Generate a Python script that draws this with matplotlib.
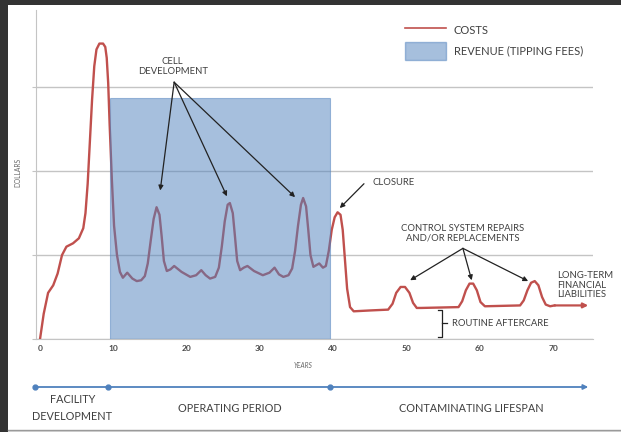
import matplotlib
matplotlib.use('Agg')
import matplotlib.pyplot as plt
from matplotlib.lines import Line2D
from matplotlib.patches import Patch, Rectangle
from matplotlib.transforms import blended_transform_factory

plt.rcParams['font.family'] = ['Lato', 'DejaVu Sans']

# costs curve (years, dollars in grid units)
years = [0, 0.5, 1.1, 1.8, 2.4, 3.0, 3.6, 4.5, 5.3, 5.9, 6.2, 6.5, 6.8, 7.1, 7.4, 7.7, 8.1,
         8.6, 8.9, 9.1, 9.3, 9.5, 9.8, 10.1, 10.5, 10.9, 11.3, 11.9, 12.6, 13.2,
         13.8, 14.3, 14.7, 15.1, 15.5, 15.9, 16.3, 16.6, 16.9, 17.3, 17.8, 18.3,
         19.3, 20.5, 21.3, 22.0, 22.6, 23.2, 23.9, 24.4, 24.8, 25.2, 25.6, 25.9,
         26.3, 26.6, 26.9, 27.3, 27.8, 28.3, 29.2, 30.4, 31.3, 32.0, 32.6, 33.2,
         33.9, 34.4, 34.8, 35.2, 35.6, 35.9, 36.3, 36.6, 36.9, 37.3, 37.7, 38.1,
         38.6, 39.0, 39.4, 39.8, 40.2, 40.6, 41.0, 41.3, 41.6, 41.9, 42.3, 42.8,
         45.0, 47.5, 48.1, 48.6, 49.2, 49.8, 50.4, 50.9, 51.4, 52.0, 57.1, 57.6,
         58.1, 58.6, 59.1, 59.6, 60.1, 60.7, 65.5, 66.0, 66.5, 67.0, 67.5, 68.0,
         68.5, 69.0, 69.6, 70.2]
costs = [0, 0.3, 0.55, 0.64, 0.78, 1.0, 1.1, 1.14, 1.2, 1.32, 1.5, 1.85, 2.35, 2.85, 3.25, 3.45, 3.52,
         3.52, 3.48, 3.35, 3.05, 2.55, 1.9, 1.35, 1.0, 0.8, 0.73, 0.79, 0.72, 0.69,
         0.7, 0.75, 0.9, 1.17, 1.43, 1.57, 1.48, 1.22, 0.93, 0.81, 0.83, 0.87,
         0.8, 0.74, 0.76, 0.82, 0.76, 0.72, 0.74, 0.85, 1.1, 1.4, 1.6, 1.62,
         1.5, 1.22, 0.93, 0.82, 0.85, 0.87, 0.81, 0.76, 0.79, 0.85, 0.77, 0.74,
         0.76, 0.84, 1.05, 1.35, 1.6, 1.68, 1.58, 1.3, 1.0, 0.86, 0.88, 0.9,
         0.85, 0.87, 1.05, 1.3, 1.45, 1.51, 1.48, 1.3, 0.95, 0.6, 0.38, 0.33,
         0.34, 0.35, 0.42, 0.55, 0.62, 0.62, 0.55, 0.43, 0.37, 0.37, 0.38, 0.45,
         0.58, 0.66, 0.66, 0.58, 0.44, 0.39, 0.40, 0.46, 0.58, 0.67, 0.69, 0.64,
         0.5, 0.41, 0.39, 0.40]
costs_end = 74.8

revenue_start, revenue_end, revenue_level = 9.5, 39.6, 2.87

phases = ['FACILITY\nDEVELOPMENT', 'OPERATING PERIOD', 'CONTAMINATING LIFESPAN']
phase_bounds = [-0.7, 9.3, 39.6, 74.8]
phase_label_x = [4.4, 25.9, 58.9]

cell_peaks = [(16.4, 1.77), (25.5, 1.70), (34.8, 1.69)]
repair_peaks = [(50.5, 0.70), (58.9, 0.70), (66.6, 0.69)]

red = '#c0504d'
blue = '#4f81bd'
txt = '#404040'

fig = plt.figure(figsize=(6.21, 4.32), dpi=100, facecolor='#333333')
# white page area inside the dark frame
fig.patches.append(Rectangle((8 / 621, 2 / 432), 1, 1 - 7 / 432, transform=fig.transFigure,
                             facecolor='white', edgecolor='none', zorder=-10))
fig.patches.append(Rectangle((8 / 621, 0), 1, 2 / 432, transform=fig.transFigure,
                             facecolor='#d8d8d8', edgecolor='none', zorder=-10))
fig.lines.append(Line2D([8 / 621, 1], [2 / 432, 2 / 432], transform=fig.transFigure,
                        color='#9a9a9a', lw=1))

ax = fig.add_axes([36 / 621, 1 - 339 / 432, (593 - 36) / 621, (339 - 10) / 432])
ax.set_facecolor('none')
ax.set_xlim(-0.55, 75.45)
ax.set_ylim(0, 3.92)

ax.plot(years, costs, color=red, lw=1.7, solid_joinstyle='round', zorder=3)
ax.annotate('', xy=(costs_end, costs[-1]), xytext=(years[-1], costs[-1]),
            arrowprops=dict(arrowstyle='-|>', color=red, lw=1.6, mutation_scale=7,
                            shrinkA=0, shrinkB=0), zorder=3)
ax.add_patch(Rectangle((revenue_start, 0), revenue_end - revenue_start, revenue_level,
                       facecolor=blue, alpha=0.5, edgecolor=blue, lw=0.8, zorder=4))

ax.set_yticks([0, 1, 2, 3])
ax.set_yticklabels([])
ax.yaxis.grid(True, color='#c4c4c4', lw=1)
ax.set_axisbelow(True)
ax.set_xticks(range(0, 80, 10))
ax.tick_params(axis='x', length=0, pad=4, labelsize=6, labelcolor='#4a4a4a')
ax.tick_params(axis='y', length=3, color='#c4c4c4', direction='out')
for lab in ax.get_xticklabels():
    lab.set_fontweight('bold')
for s in ['top', 'right']:
    ax.spines[s].set_visible(False)
ax.spines['left'].set_color('#c4c4c4')
ax.spines['bottom'].set_color('#c4c4c4')

fig.text(303 / 621, 1 - 366 / 432, 'YEARS', fontsize=4.8, style='italic', color='#666666',
         ha='center', va='center')
fig.text(18 / 621, 1 - 172 / 432, 'DOLLARS', fontsize=4.8, rotation=90, color='#666666',
         ha='center', va='center')

leg = ax.legend([Line2D([], [], color=red, lw=1.2),
                 Patch(facecolor=blue, alpha=0.5, edgecolor=blue)],
                ['COSTS', 'REVENUE (TIPPING FEES)'],
                loc='upper left', bbox_to_anchor=(405 / 621, 1 - 22 / 432),
                bbox_transform=fig.transFigure, frameon=False, fontsize=8,
                handlelength=3.7, handleheight=2.1, handletextpad=0.7,
                labelspacing=0.2, borderpad=0, borderaxespad=0)
for t in leg.get_texts():
    t.set_color(txt)

arrow_kw = dict(arrowstyle='-|>', color='#222222', lw=0.9, mutation_scale=7,
                shrinkA=0, shrinkB=0)

ax.text(18.1, 3.25, 'CELL\nDEVELOPMENT', fontsize=6.8, color=txt, ha='center', va='center',
        linespacing=1.15)
for px, py in cell_peaks:
    ax.annotate('', xy=(px, py), xytext=(18.3, 3.06), arrowprops=arrow_kw, zorder=5)

ax.text(45.3, 1.86, 'CLOSURE', fontsize=6.8, color=txt, ha='left', va='center')
ax.annotate('', xy=(40.9, 1.56), xytext=(44.2, 1.85), arrowprops=arrow_kw, zorder=5)

ax.text(57.7, 1.26, 'CONTROL SYSTEM REPAIRS\nAND/OR REPLACEMENTS', fontsize=6.8, color=txt,
        ha='center', va='center', linespacing=1.15)
for px, py in repair_peaks:
    ax.annotate('', xy=(px, py), xytext=(57.7, 1.08), arrowprops=arrow_kw, zorder=5)

ax.text(70.5, 0.64, 'LONG-TERM\nFINANCIAL\nLIABILITIES', fontsize=6.8, color=txt,
        ha='left', va='center', linespacing=1.1)

# bracket for routine aftercare
ax.plot([54.3, 54.85, 54.85, 54.3], [0.34, 0.34, 0.02, 0.02], color='#222222', lw=0.9,
        clip_on=False)
ax.plot([54.85, 55.5], [0.19, 0.19], color='#222222', lw=0.9)
ax.text(56.2, 0.19, 'ROUTINE AFTERCARE', fontsize=6.8, color=txt, ha='left', va='center')

# phase timeline under the axis
tl = blended_transform_factory(ax.transData, fig.transFigure)
ty = 1 - 387 / 432
ax.annotate('', xy=(phase_bounds[-1], ty), xytext=(phase_bounds[0], ty), xycoords=tl,
            textcoords=tl, arrowprops=dict(arrowstyle='-|>', color=blue, lw=1.3,
                                           mutation_scale=7, shrinkA=0, shrinkB=0),
            annotation_clip=False)
ax.plot(phase_bounds[:-1], [ty] * 3, 'o', color=blue, ms=3.5, transform=tl, clip_on=False)
for lx, lab in zip(phase_label_x, phases):
    ax.text(lx, 1 - 408 / 432, lab, transform=tl, fontsize=7.8, color=txt, ha='center',
            va='center', linespacing=1.6)

fig.savefig('out.png', dpi=100, facecolor=fig.get_facecolor())
